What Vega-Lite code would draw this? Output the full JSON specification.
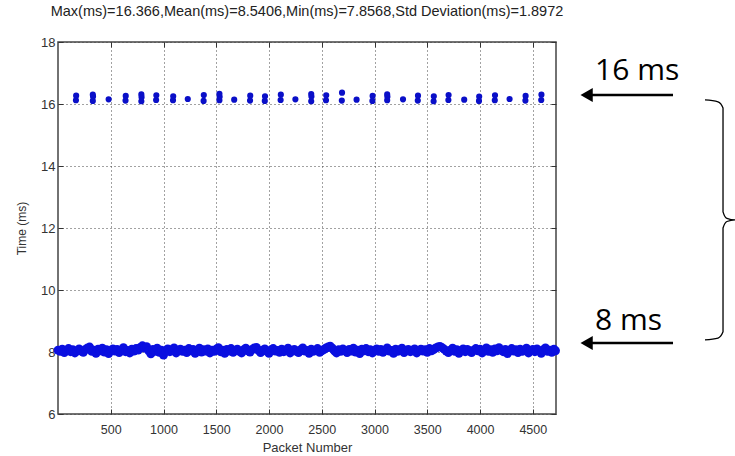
{
  "$schema": "https://vega.github.io/schema/vega-lite/v6.json",
  "width": 498,
  "height": 372,
  "autosize": "none",
  "padding": {"left": 58, "top": 42, "right": 179, "bottom": 42},
  "background": "white",
  "config": {
    "view": {"stroke": "#444", "strokeWidth": 1.5},
    "axis": {"domain": false, "labelFont": "Liberation Sans", "titleFont": "Liberation Sans", "labelColor": "#333", "titleColor": "#333", "titleFontWeight": "normal", "tickColor": "#333"}
  },
  "title": {"text": "Max(ms)=16.366,Mean(ms)=8.5406,Min(ms)=7.8568,Std Deviation(ms)=1.8972", "font": "Liberation Sans", "fontSize": 14.5, "fontWeight": "normal", "color": "#222", "anchor": "middle", "frame": "group", "offset": 17},
  "datasets": {
    "band": [
      {"p":0,"t":8.06},{"p":20,"t":8.02},{"p":40,"t":8.09},{"p":60,"t":7.98},{"p":80,"t":8.05},{"p":100,"t":8.11},{"p":120,"t":8.01},{"p":140,"t":8.07},{"p":160,"t":7.97},{"p":180,"t":8.04},
      {"p":200,"t":8.10},{"p":220,"t":8.03},{"p":240,"t":7.99},{"p":260,"t":8.08},{"p":280,"t":8.13},{"p":300,"t":8.16},{"p":320,"t":8.02},{"p":340,"t":8.06},{"p":360,"t":7.96},{"p":380,"t":8.09},
      {"p":400,"t":8.04},{"p":420,"t":8.12},{"p":440,"t":8.00},{"p":460,"t":8.07},{"p":480,"t":7.95},{"p":500,"t":8.05},{"p":520,"t":8.10},{"p":540,"t":8.03},{"p":560,"t":8.08},{"p":580,"t":7.98},
      {"p":600,"t":8.06},{"p":620,"t":8.14},{"p":640,"t":8.01},{"p":660,"t":8.05},{"p":680,"t":7.97},{"p":700,"t":8.09},{"p":720,"t":8.03},{"p":740,"t":8.11},{"p":760,"t":8.06},{"p":780,"t":8.15},
      {"p":800,"t":8.20},{"p":820,"t":8.13},{"p":840,"t":8.17},{"p":860,"t":8.04},{"p":880,"t":7.94},{"p":900,"t":8.08},{"p":920,"t":8.02},{"p":940,"t":8.12},{"p":960,"t":7.99},{"p":980,"t":8.06},
      {"p":1000,"t":7.90},{"p":1020,"t":8.04},{"p":1040,"t":8.10},{"p":1060,"t":8.01},{"p":1080,"t":8.07},{"p":1100,"t":8.13},{"p":1120,"t":7.97},{"p":1140,"t":8.05},{"p":1160,"t":8.09},{"p":1180,"t":8.02},
      {"p":1200,"t":8.06},{"p":1220,"t":7.98},{"p":1240,"t":8.11},{"p":1260,"t":8.04},{"p":1280,"t":8.08},{"p":1300,"t":7.96},{"p":1320,"t":8.05},{"p":1340,"t":8.12},{"p":1360,"t":8.00},{"p":1380,"t":8.07},
      {"p":1400,"t":8.03},{"p":1420,"t":8.10},{"p":1440,"t":7.97},{"p":1460,"t":8.06},{"p":1480,"t":8.02},{"p":1500,"t":8.09},{"p":1520,"t":8.14},{"p":1540,"t":8.01},{"p":1560,"t":8.06},{"p":1580,"t":7.96},
      {"p":1600,"t":8.08},{"p":1620,"t":8.03},{"p":1640,"t":8.11},{"p":1660,"t":7.99},{"p":1680,"t":8.05},{"p":1700,"t":8.09},{"p":1720,"t":8.02},{"p":1740,"t":7.97},{"p":1760,"t":8.07},{"p":1780,"t":8.12},
      {"p":1800,"t":8.04},{"p":1820,"t":8.00},{"p":1840,"t":8.08},{"p":1860,"t":8.13},{"p":1880,"t":8.15},{"p":1900,"t":8.05},{"p":1920,"t":7.98},{"p":1940,"t":8.06},{"p":1960,"t":8.10},{"p":1980,"t":8.02},
      {"p":2000,"t":7.96},{"p":2020,"t":8.07},{"p":2040,"t":8.11},{"p":2060,"t":8.03},{"p":2080,"t":8.05},{"p":2100,"t":7.99},{"p":2120,"t":8.09},{"p":2140,"t":8.01},{"p":2160,"t":8.06},{"p":2180,"t":8.12},
      {"p":2200,"t":7.97},{"p":2220,"t":8.04},{"p":2240,"t":8.08},{"p":2260,"t":8.02},{"p":2280,"t":7.98},{"p":2300,"t":8.07},{"p":2320,"t":8.13},{"p":2340,"t":8.03},{"p":2360,"t":8.05},{"p":2380,"t":7.96},
      {"p":2400,"t":8.09},{"p":2420,"t":8.02},{"p":2440,"t":8.06},{"p":2460,"t":8.11},{"p":2480,"t":7.99},{"p":2500,"t":8.04},{"p":2520,"t":8.08},{"p":2540,"t":8.13},{"p":2560,"t":8.16},{"p":2580,"t":8.19},
      {"p":2600,"t":8.12},{"p":2620,"t":8.04},{"p":2640,"t":7.97},{"p":2660,"t":8.07},{"p":2680,"t":8.02},{"p":2700,"t":8.10},{"p":2720,"t":8.05},{"p":2740,"t":7.98},{"p":2760,"t":8.08},{"p":2780,"t":8.03},
      {"p":2800,"t":8.12},{"p":2820,"t":8.00},{"p":2840,"t":8.06},{"p":2860,"t":7.95},{"p":2880,"t":8.09},{"p":2900,"t":8.04},{"p":2920,"t":8.11},{"p":2940,"t":8.01},{"p":2960,"t":8.07},{"p":2980,"t":7.97},
      {"p":3000,"t":8.05},{"p":3020,"t":8.10},{"p":3040,"t":8.02},{"p":3060,"t":8.08},{"p":3080,"t":7.99},{"p":3100,"t":8.06},{"p":3120,"t":8.13},{"p":3140,"t":8.03},{"p":3160,"t":8.05},{"p":3180,"t":7.96},
      {"p":3200,"t":8.09},{"p":3220,"t":8.02},{"p":3240,"t":8.07},{"p":3260,"t":8.12},{"p":3280,"t":7.98},{"p":3300,"t":8.04},{"p":3320,"t":8.08},{"p":3340,"t":8.01},{"p":3360,"t":8.06},{"p":3380,"t":8.10},
      {"p":3400,"t":7.97},{"p":3420,"t":8.05},{"p":3440,"t":8.09},{"p":3460,"t":8.03},{"p":3480,"t":8.07},{"p":3500,"t":7.99},{"p":3520,"t":8.11},{"p":3540,"t":8.04},{"p":3560,"t":8.08},{"p":3580,"t":8.13},
      {"p":3600,"t":8.16},{"p":3620,"t":8.18},{"p":3640,"t":8.14},{"p":3660,"t":8.09},{"p":3680,"t":8.03},{"p":3700,"t":7.98},{"p":3720,"t":8.06},{"p":3740,"t":8.12},{"p":3760,"t":8.02},{"p":3780,"t":8.07},
      {"p":3800,"t":7.96},{"p":3820,"t":8.05},{"p":3840,"t":8.10},{"p":3860,"t":8.01},{"p":3880,"t":8.08},{"p":3900,"t":8.03},{"p":3920,"t":7.98},{"p":3940,"t":8.06},{"p":3960,"t":8.11},{"p":3980,"t":8.04},
      {"p":4000,"t":8.09},{"p":4020,"t":7.97},{"p":4040,"t":8.05},{"p":4060,"t":8.13},{"p":4080,"t":8.02},{"p":4100,"t":8.07},{"p":4120,"t":7.99},{"p":4140,"t":8.10},{"p":4160,"t":8.04},{"p":4180,"t":8.14},
      {"p":4200,"t":8.06},{"p":4220,"t":8.01},{"p":4240,"t":8.08},{"p":4260,"t":7.95},{"p":4280,"t":8.05},{"p":4300,"t":8.11},{"p":4320,"t":8.03},{"p":4340,"t":8.07},{"p":4360,"t":7.98},{"p":4380,"t":8.09},
      {"p":4400,"t":8.02},{"p":4420,"t":8.06},{"p":4440,"t":8.12},{"p":4460,"t":7.97},{"p":4480,"t":8.05},{"p":4500,"t":8.08},{"p":4520,"t":8.01},{"p":4540,"t":8.10},{"p":4560,"t":8.04},{"p":4580,"t":7.96},
      {"p":4600,"t":8.07},{"p":4620,"t":8.13},{"p":4640,"t":8.02},{"p":4660,"t":8.06},{"p":4680,"t":7.99},{"p":4700,"t":8.09},{"p":4715,"t":8.04}
    ],
    "peaks": [
      {"p":170,"t":16.12},{"p":172,"t":16.27},
      {"p":330,"t":16.10},{"p":332,"t":16.24},{"p":330,"t":16.30},
      {"p":480,"t":16.15},
      {"p":640,"t":16.11},{"p":642,"t":16.26},
      {"p":790,"t":16.09},{"p":792,"t":16.22},{"p":790,"t":16.31},
      {"p":930,"t":16.13},{"p":932,"t":16.28},
      {"p":1090,"t":16.12},{"p":1092,"t":16.25},
      {"p":1230,"t":16.16},
      {"p":1380,"t":16.10},{"p":1382,"t":16.29},
      {"p":1530,"t":16.12},{"p":1532,"t":16.23},{"p":1530,"t":16.33},
      {"p":1670,"t":16.14},
      {"p":1820,"t":16.11},{"p":1822,"t":16.27},
      {"p":1960,"t":16.10},{"p":1962,"t":16.25},
      {"p":2110,"t":16.13},{"p":2112,"t":16.30},
      {"p":2250,"t":16.15},
      {"p":2400,"t":16.09},{"p":2402,"t":16.24},{"p":2400,"t":16.32},
      {"p":2540,"t":16.12},{"p":2542,"t":16.28},
      {"p":2690,"t":16.11},{"p":2692,"t":16.366},
      {"p":2830,"t":16.14},
      {"p":2980,"t":16.10},{"p":2982,"t":16.26},
      {"p":3120,"t":16.12},{"p":3122,"t":16.23},{"p":3120,"t":16.31},
      {"p":3270,"t":16.15},
      {"p":3410,"t":16.11},{"p":3412,"t":16.27},
      {"p":3560,"t":16.09},{"p":3562,"t":16.25},
      {"p":3700,"t":16.13},{"p":3702,"t":16.29},
      {"p":3850,"t":16.14},
      {"p":3990,"t":16.10},{"p":3992,"t":16.24},
      {"p":4140,"t":16.12},{"p":4142,"t":16.28},
      {"p":4280,"t":16.16},
      {"p":4430,"t":16.11},{"p":4432,"t":16.26},
      {"p":4580,"t":16.13},{"p":4582,"t":16.30}
    ],
    "arrows": [
      {"x1":5010,"x2":5829,"y":16.29},
      {"x1":5010,"x2":5829,"y":8.29}
    ],
    "labels": [
      {"x":5090,"y":16.77,"label":"16 ms"},
      {"x":5090,"y":8.71,"label":"8 ms"}
    ],
    "brace": [
      {"o":1,"x":6132,"y":16.13},{"o":2,"x":6256,"y":16.07},{"o":3,"x":6303,"y":15.87},{"o":4,"x":6303,"y":12.52},{"o":5,"x":6340,"y":12.31},{"o":6,"x":6417,"y":12.26},
      {"o":7,"x":6340,"y":12.21},{"o":8,"x":6303,"y":12.0},{"o":9,"x":6303,"y":8.65},{"o":10,"x":6256,"y":8.45},{"o":11,"x":6132,"y":8.39}
    ]
  },
  "resolve": {"axis": {"x": "independent", "y": "independent"}},
  "layer": [
    {
      "data": {"name": "band"},
      "mark": {"type": "point", "filled": true, "size": 80, "color": "#0a0fe0", "opacity": 1},
      "encoding": {
        "x": {"field": "p", "type": "quantitative", "scale": {"domain": [0, 4720], "nice": false, "zero": false},
          "axis": {"orient": "bottom", "values": [500,1000,1500,2000,2500,3000,3500,4000,4500], "format": "d", "grid": true, "gridDash": [1,3], "gridColor": "#444", "gridWidth": 1, "tickSize": -5, "labelFontSize": 12.5, "labelPadding": 14, "title": "Packet Number", "titleFontSize": 13, "titlePadding": 6}},
        "y": {"field": "t", "type": "quantitative", "scale": {"domain": [6, 18], "nice": false, "zero": false},
          "axis": {"orient": "left", "values": [6,8,10,12,14,16,18], "grid": true, "gridDash": [1,3], "gridColor": "#444", "gridWidth": 1, "tickSize": -5, "labelFontSize": 13, "labelPadding": 8, "title": "Time (ms)", "titleFontSize": 12, "titlePadding": 12}}
      }
    },
    {
      "data": {"name": "peaks"},
      "mark": {"type": "point", "filled": true, "size": 38, "color": "#0a0fc8", "opacity": 1},
      "encoding": {
        "x": {"field": "p", "type": "quantitative", "scale": {"domain": [0, 4720], "nice": false, "zero": false},
          "axis": {"orient": "top", "values": [500,1000,1500,2000,2500,3000,3500,4000,4500], "grid": false, "labels": false, "tickSize": -5, "title": null}},
        "y": {"field": "t", "type": "quantitative", "scale": {"domain": [6, 18], "nice": false, "zero": false},
          "axis": {"orient": "right", "values": [6,8,10,12,14,16,18], "grid": false, "labels": false, "tickSize": -5, "title": null}}
      }
    },
    {
      "data": {"name": "arrows"},
      "mark": {"type": "rule", "color": "black", "strokeWidth": 2.5},
      "encoding": {
        "x": {"field": "x1", "type": "quantitative", "scale": {"domain": [0, 4720], "nice": false, "zero": false}, "axis": null},
        "x2": {"field": "x2"},
        "y": {"field": "y", "type": "quantitative", "scale": {"domain": [6, 18], "nice": false, "zero": false}, "axis": null}
      }
    },
    {
      "data": {"name": "arrows"},
      "mark": {"type": "point", "shape": "triangle-left", "filled": true, "size": 200, "color": "black", "opacity": 1},
      "encoding": {
        "x": {"field": "x1", "type": "quantitative", "scale": {"domain": [0, 4720], "nice": false, "zero": false}, "axis": null},
        "y": {"field": "y", "type": "quantitative", "scale": {"domain": [6, 18], "nice": false, "zero": false}, "axis": null}
      }
    },
    {
      "data": {"name": "labels"},
      "mark": {"type": "text", "align": "left", "baseline": "alphabetic", "font": "Open Sans", "fontSize": 30, "color": "black"},
      "encoding": {
        "x": {"field": "x", "type": "quantitative", "scale": {"domain": [0, 4720], "nice": false, "zero": false}, "axis": null},
        "y": {"field": "y", "type": "quantitative", "scale": {"domain": [6, 18], "nice": false, "zero": false}, "axis": null},
        "text": {"field": "label"}
      }
    },
    {
      "data": {"name": "brace"},
      "mark": {"type": "line", "color": "black", "strokeWidth": 1.3, "interpolate": "monotone"},
      "encoding": {
        "x": {"field": "x", "type": "quantitative", "scale": {"domain": [0, 4720], "nice": false, "zero": false}, "axis": null},
        "y": {"field": "y", "type": "quantitative", "scale": {"domain": [6, 18], "nice": false, "zero": false}, "axis": null},
        "order": {"field": "o"}
      }
    }
  ]
}
